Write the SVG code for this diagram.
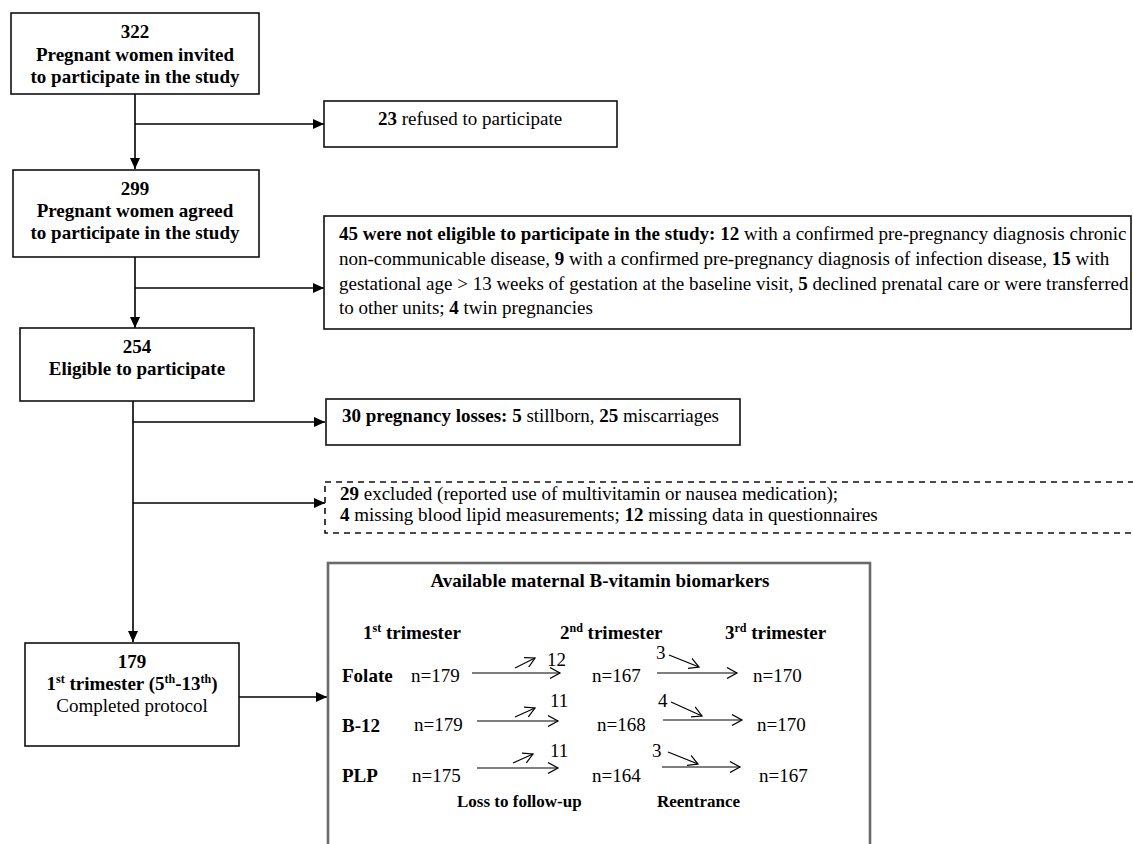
<svg xmlns="http://www.w3.org/2000/svg" width="1133" height="844" viewBox="0 0 1133 844">
<defs>
<style>
text{font-family:"Liberation Serif","Times New Roman",serif;font-size:19px;fill:#000}
.b{font-weight:bold}
.c{text-anchor:middle}
.box{fill:#fff;stroke:#111;stroke-width:1.6}
.dash{fill:#fff;stroke:#111;stroke-width:1.6;stroke-dasharray:6 5}
.tbl{fill:#fff;stroke:#6a6a6a;stroke-width:2.6}
.ln{fill:none;stroke:#000;stroke-width:1.6}
.thin{fill:none;stroke:#000;stroke-width:1.2}
.sm{font-size:17px}
</style>
<marker id="ah" markerWidth="12" markerHeight="10" refX="11" refY="5" orient="auto" markerUnits="userSpaceOnUse">
<path d="M0,0 L11,5 L0,10 Z" fill="#000"/>
</marker>
<marker id="oh" markerWidth="12" markerHeight="12" refX="10" refY="6" orient="auto" markerUnits="userSpaceOnUse">
<path d="M0,0.5 L10,6 L0,11.5" fill="none" stroke="#000" stroke-width="1.2"/>
</marker>
</defs>
<rect width="1133" height="844" fill="#fff"/>

<g id="connectors">
<line class="ln" x1="135" y1="94" x2="135" y2="169" marker-end="url(#ah)"/>
<line class="ln" x1="135" y1="124" x2="324" y2="124" marker-end="url(#ah)"/>
<line class="ln" x1="135" y1="257" x2="135" y2="328" marker-end="url(#ah)"/>
<line class="ln" x1="135" y1="288" x2="324" y2="288" marker-end="url(#ah)"/>
<line class="ln" x1="133" y1="401" x2="133" y2="642" marker-end="url(#ah)"/>
<line class="ln" x1="133" y1="422" x2="325" y2="422" marker-end="url(#ah)"/>
<line class="ln" x1="133" y1="503" x2="325" y2="503" marker-end="url(#ah)"/>
<line class="ln" x1="239" y1="697" x2="327" y2="697" marker-end="url(#ah)"/>
</g>

<g id="n322">
<rect class="box" x="11" y="13" width="248" height="81"/>
<text class="b c" x="135" y="38">322</text>
<text class="b c" x="135" y="61">Pregnant women invited</text>
<text class="b c" x="135" y="83">to participate in the study</text>
</g>

<g id="n23">
<rect class="box" x="324" y="101" width="293" height="46"/>
<text x="378" y="125"><tspan class="b">23</tspan> refused to participate</text>
</g>

<g id="n299">
<rect class="box" x="13" y="170" width="246" height="87"/>
<text class="b c" x="135" y="195">299</text>
<text class="b c" x="135" y="217">Pregnant women agreed</text>
<text class="b c" x="135" y="239">to participate in the study</text>
</g>

<g id="n45">
<rect class="box" x="324" y="216" width="807" height="113"/>
<text x="339" y="240"><tspan class="b">45 were not eligible to participate in the study: 12</tspan> with a confirmed pre-pregnancy diagnosis chronic</text>
<text x="339" y="265">non-communicable disease, <tspan class="b">9</tspan> with a confirmed pre-pregnancy diagnosis of infection disease, <tspan class="b">15</tspan> with</text>
<text x="339" y="290">gestational age &gt; 13 weeks of gestation at the baseline visit, <tspan class="b">5</tspan> declined prenatal care or were transferred</text>
<text x="339" y="314">to other units; <tspan class="b">4</tspan> twin pregnancies</text>
</g>

<g id="n254">
<rect class="box" x="20" y="328" width="234" height="73"/>
<text class="b c" x="137" y="353">254</text>
<text class="b c" x="137" y="375">Eligible to participate</text>
</g>

<g id="n30">
<rect class="box" x="326" y="399" width="414" height="46"/>
<text x="342" y="422"><tspan class="b">30 pregnancy losses: 5</tspan> stillborn, <tspan class="b">25</tspan> miscarriages</text>
</g>

<g id="nexcl">
<rect class="dash" x="325" y="482" width="812" height="51"/>
<text x="340" y="500"><tspan class="b">29</tspan> excluded (reported use of multivitamin or nausea medication);</text>
<text x="340" y="521"><tspan class="b">4</tspan> missing blood lipid measurements; <tspan class="b">12</tspan> missing data in questionnaires</text>
</g>

<g id="n179">
<rect class="box" x="25" y="643" width="214" height="103"/>
<text class="b c" x="132" y="668">179</text>
<text class="b c" x="132" y="690">1<tspan font-size="12" baseline-shift="super">st</tspan> trimester (5<tspan font-size="12" baseline-shift="super">th</tspan>-13<tspan font-size="12" baseline-shift="super">th</tspan>)</text>
<text class="c" x="132" y="712">Completed protocol</text>
</g>

<g id="biomarkers">
<rect class="tbl" x="328" y="563" width="542" height="295"/>
<text class="b c" x="600" y="587">Available maternal B-vitamin biomarkers</text>
<text class="b" x="363" y="639">1<tspan font-size="12" baseline-shift="super">st</tspan> trimester</text>
<text class="b" x="560" y="639">2<tspan font-size="12" baseline-shift="super">nd</tspan> trimester</text>
<text class="b" x="725" y="639">3<tspan font-size="12" baseline-shift="super">rd</tspan> trimester</text>

<text class="b" x="342" y="682">Folate</text>
<text x="411" y="682">n=179</text>
<text x="547" y="666">12</text>
<text x="592" y="682">n=167</text>
<text x="656" y="659">3</text>
<text x="753" y="682">n=170</text>
<line class="thin" x1="472" y1="673" x2="560" y2="673" marker-end="url(#oh)"/>
<line class="thin" x1="515" y1="668" x2="535" y2="658" marker-end="url(#oh)"/>
<line class="thin" x1="669" y1="655" x2="699" y2="667" marker-end="url(#oh)"/>
<line class="thin" x1="657" y1="673" x2="737" y2="673" marker-end="url(#oh)"/>

<text class="b" x="342" y="732">B-12</text>
<text x="414" y="731">n=179</text>
<text x="550" y="707">11</text>
<text x="597" y="731">n=168</text>
<text x="658" y="707">4</text>
<text x="757" y="731">n=170</text>
<line class="thin" x1="477" y1="721" x2="558" y2="721" marker-end="url(#oh)"/>
<line class="thin" x1="515" y1="717" x2="535" y2="708" marker-end="url(#oh)"/>
<line class="thin" x1="671" y1="702" x2="702" y2="716" marker-end="url(#oh)"/>
<line class="thin" x1="663" y1="720" x2="742" y2="720" marker-end="url(#oh)"/>

<text class="b" x="342" y="782">PLP</text>
<text x="412" y="782">n=175</text>
<text x="550" y="757">11</text>
<text x="592" y="782">n=164</text>
<text x="652" y="757">3</text>
<text x="759" y="782">n=167</text>
<line class="thin" x1="477" y1="768" x2="558" y2="768" marker-end="url(#oh)"/>
<line class="thin" x1="513" y1="763" x2="533" y2="754" marker-end="url(#oh)"/>
<line class="thin" x1="668" y1="752" x2="698" y2="764" marker-end="url(#oh)"/>
<line class="thin" x1="662" y1="767" x2="740" y2="767" marker-end="url(#oh)"/>

<text class="b sm" x="457" y="807">Loss to follow-up</text>
<text class="b sm" x="657" y="807">Reentrance</text>
</g>
</svg>
